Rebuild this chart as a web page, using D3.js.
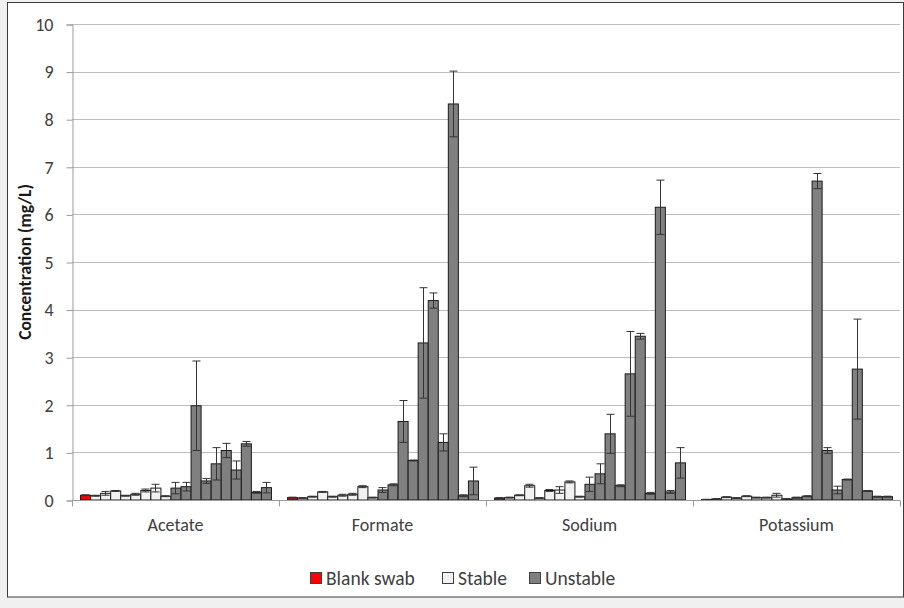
<!DOCTYPE html>
<html>
<head>
<meta charset="utf-8">
<script src="https://cdn.jsdelivr.net/npm/d3@7"></script>
<style>
  html, body { margin: 0; padding: 0; background: #f0f0f0; }
  svg { display: block; }
  text { font-family: Carlito, Lato, "Liberation Sans", sans-serif; }
</style>
</head>
<body>
<svg id="chart" width="904" height="608"></svg>
<script>
// ---- data ----
const categories = ["Acetate", "Formate", "Sodium", "Potassium"];
const barTypes = ["Blank swab",
  "Stable", "Stable", "Stable", "Stable", "Stable", "Stable", "Stable", "Stable",
  "Unstable", "Unstable", "Unstable", "Unstable", "Unstable", "Unstable", "Unstable", "Unstable", "Unstable", "Unstable"];
const acetateValues   = [0.10, 0.09, 0.14, 0.19, 0.09, 0.12, 0.20, 0.25, 0.08, 0.25, 0.28, 1.98, 0.40, 0.76, 1.04, 0.63, 1.18, 0.16, 0.26];
const acetateErrors   = [0.01, 0.01, 0.04, 0.01, 0.01, 0.02, 0.03, 0.08, 0.01, 0.12, 0.09, 0.94, 0.05, 0.34, 0.15, 0.19, 0.05, 0.02, 0.11];
const formateValues   = [0.05, 0.04, 0.07, 0.17, 0.07, 0.10, 0.12, 0.28, 0.05, 0.21, 0.32, 1.65, 0.83, 3.30, 4.19, 1.21, 8.32, 0.09, 0.40];
const formateErrors   = [0.01, 0.01, 0.01, 0.01, 0.01, 0.02, 0.02, 0.02, 0.01, 0.05, 0.02, 0.44, 0.01, 1.16, 0.16, 0.18, 0.69, 0.02, 0.29];
const sodiumValues    = [0.04, 0.05, 0.10, 0.30, 0.04, 0.20, 0.21, 0.38, 0.07, 0.33, 0.55, 1.39, 0.30, 2.65, 3.44, 0.14, 6.15, 0.17, 0.78];
const sodiumErrors    = [0.01, 0.01, 0.01, 0.03, 0.01, 0.02, 0.07, 0.02, 0.01, 0.15, 0.21, 0.41, 0.02, 0.89, 0.06, 0.02, 0.57, 0.03, 0.32];
const potassiumValues = [0.01, 0.02, 0.06, 0.04, 0.08, 0.05, 0.05, 0.10, 0.02, 0.05, 0.08, 6.70, 1.04, 0.21, 0.43, 2.75, 0.19, 0.07, 0.07];
const potassiumErrors = [0.005, 0.01, 0.01, 0.01, 0.01, 0.01, 0.01, 0.04, 0.01, 0.01, 0.01, 0.16, 0.06, 0.08, 0.01, 1.05, 0.01, 0.01, 0.01];
const yTicks = [0, 1, 2, 3, 4, 5, 6, 7, 8, 9, 10];
const legendLabels = ["Blank swab", "Stable", "Unstable"];

const valuesByCat = [acetateValues, formateValues, sodiumValues, potassiumValues];
const errorsByCat = [acetateErrors, formateErrors, sodiumErrors, potassiumErrors];

// ---- styles ----
const fills = { "Blank swab": "#ff0000", "Stable": "#f2f2f2", "Unstable": "#808080" };

const svg = d3.select("#chart");
// chart frame
svg.append("rect").attr("x", 7.5).attr("y", 2.5).attr("width", 896).attr("height", 594.5)
  .attr("fill", "#ffffff").attr("stroke", "#3a3a3a").attr("stroke-width", 1);

const mLeft = 72, mRight = 900, mTop = 24, mBottom = 500;
const x = d3.scaleBand().domain(categories).range([mLeft, mRight]).padding(0);
const xInner = d3.scaleBand().domain(d3.range(barTypes.length)).range([0, x.bandwidth()])
  .paddingInner(0).paddingOuter(0.8);
const y = d3.scaleLinear().domain([0, 10]).range([mBottom, mTop]);

// gridlines
svg.append("g").selectAll("line").data(yTicks.filter(d => d > 0)).join("line")
  .attr("x1", mLeft).attr("x2", mRight)
  .attr("y1", d => Math.round(y(d)) + 0.5).attr("y2", d => Math.round(y(d)) + 0.5)
  .attr("stroke", "#bdbdbd").attr("stroke-width", 1);

// y axis
const yAxis = svg.append("g").attr("transform", `translate(${mLeft + 0.5},0.5)`)
  .call(d3.axisLeft(y).tickValues(yTicks).tickSize(6).tickPadding(13).tickFormat(d3.format("d")));
yAxis.select(".domain").attr("stroke", "#9a9a9a");
yAxis.selectAll(".tick line").attr("stroke", "#9a9a9a");
yAxis.selectAll(".tick text").attr("fill", "#404040").style("font-size", "18px")
  .style("font-family", "Carlito, Lato, 'Liberation Sans', sans-serif");

// bars
const groups = svg.append("g").selectAll("g").data(categories).join("g")
  .attr("transform", d => `translate(${x(d)},0)`);

groups.each(function(cat, ci) {
  const g = d3.select(this);
  const data = valuesByCat[ci].map((v, i) => ({ i, v, e: errorsByCat[ci][i], t: barTypes[i] }));
  g.selectAll("rect").data(data).join("rect")
    .attr("x", d => xInner(d.i) + 0.5)
    .attr("y", d => y(d.v))
    .attr("width", xInner.bandwidth())
    .attr("height", d => y(0) - y(d.v))
    .attr("fill", d => fills[d.t])
    .attr("stroke", "#1a1a1a").attr("stroke-width", 1);
  const eb = g.append("g").selectAll("g").data(data).join("g");
  const cx = d => Math.round(xInner(d.i) + xInner.bandwidth() / 2) + 0.5;
  eb.append("line").attr("x1", cx).attr("x2", cx)
    .attr("y1", d => y(d.v + d.e)).attr("y2", d => y(Math.max(0, d.v - d.e)))
    .attr("stroke", "#333333").attr("stroke-width", 1);
  [1, -1].forEach(s => {
    eb.append("line").attr("x1", d => cx(d) - 4).attr("x2", d => cx(d) + 4)
      .attr("y1", d => y(Math.max(0, d.v + s * d.e))).attr("y2", d => y(Math.max(0, d.v + s * d.e)))
      .attr("stroke", "#333333").attr("stroke-width", 1);
  });
});

// x axis
const xAxis = svg.append("g").attr("transform", `translate(0,${mBottom + 0.5})`);
xAxis.append("line").attr("x1", mLeft).attr("x2", mRight).attr("stroke", "#9a9a9a");
const boundaries = categories.map(c => x(c)).concat([mRight]);
xAxis.selectAll("line.tk").data(boundaries).join("line").attr("class", "tk")
  .attr("x1", d => Math.round(d) + 0.5).attr("x2", d => Math.round(d) + 0.5)
  .attr("y1", 0).attr("y2", 6).attr("stroke", "#9a9a9a");
xAxis.selectAll("text").data(categories).join("text")
  .attr("x", d => x(d) + x.bandwidth() / 2).attr("y", 30)
  .attr("text-anchor", "middle").attr("fill", "#404040").style("font-size", "18px")
  .text(d => d);

// y title
svg.append("text").attr("transform", `translate(25,${(mTop + mBottom) / 2}) rotate(-90)`)
  .attr("text-anchor", "middle").attr("dominant-baseline", "central")
  .attr("fill", "#1a1a1a").style("font-size", "17.5px").style("font-weight", "bold")
  .text("Concentration (mg/L)");

// legend
const legendX = [310, 442, 529];
const lg = svg.append("g").selectAll("g").data(legendLabels).join("g")
  .attr("transform", (d, i) => `translate(${legendX[i]},572)`);
lg.append("rect").attr("x", 0.5).attr("y", 0.5).attr("width", 11).attr("height", 11)
  .attr("fill", d => fills[d]).attr("stroke", "#404040");
lg.append("text").attr("x", 16).attr("y", 12.5).attr("fill", "#404040").style("font-size", "19.5px")
  .text(d => d);
</script>
</body>
</html>
